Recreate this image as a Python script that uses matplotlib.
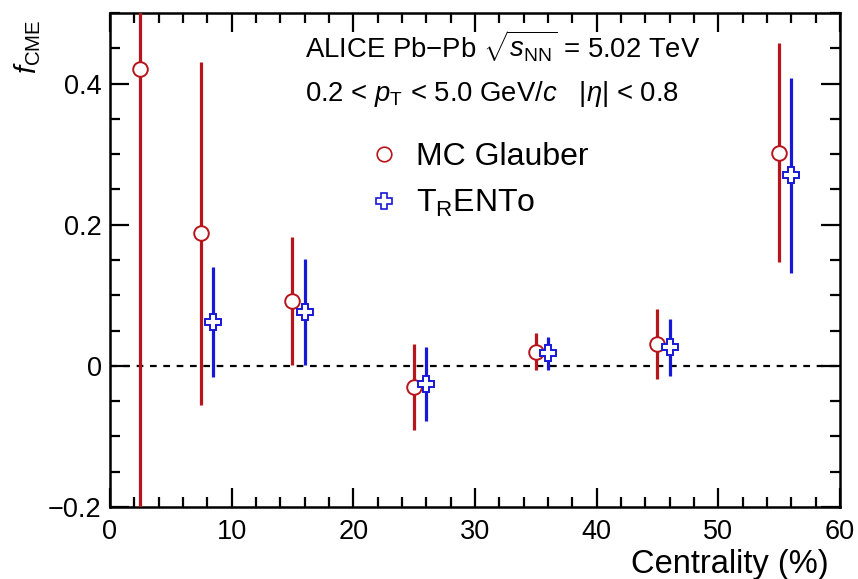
import matplotlib
matplotlib.use('Agg')
import matplotlib.pyplot as plt
from matplotlib.lines import Line2D
from matplotlib.ticker import MultipleLocator

plt.rcParams['font.family'] = ['Liberation Sans', 'DejaVu Sans']
plt.rcParams['mathtext.fontset'] = 'custom'
plt.rcParams['mathtext.rm'] = 'Liberation Sans'
plt.rcParams['mathtext.it'] = 'Liberation Sans:italic'

# MC Glauber
glauber_x = [2.5, 7.5, 15, 25, 35, 45, 55]
glauber_y = [0.421, 0.188, 0.092, -0.030, 0.020, 0.031, 0.302]
glauber_err = [0.75, 0.243, 0.091, 0.061, 0.026, 0.049, 0.155]

# TRENTo (drawn shifted by +1 in centrality)
trento_x = [8.5, 16, 26, 36, 46, 56]
trento_y = [0.062, 0.076, -0.026, 0.018, 0.026, 0.270]
trento_err = [0.078, 0.075, 0.052, 0.0235, 0.041, 0.138]

red = '#b8141c'
blue = '#1818d8'

fig = plt.figure(figsize=(8.58, 5.79), dpi=100)
ax = fig.add_axes([0.1282, 0.1244, 0.979 - 0.1282, 0.9775 - 0.1244])

ax.axhline(0, color='black', lw=1.6, ls=(0, (3, 3)), zorder=1)

ax.errorbar(glauber_x, glauber_y, yerr=glauber_err, fmt='o', color=red,
            mfc='white', mec=red, mew=1.4, ms=10.5, elinewidth=2.3,
            capsize=0, zorder=3)
ax.errorbar(trento_x, trento_y, yerr=trento_err, fmt='P', color=blue,
            mfc='white', mec=blue, mew=1.4, ms=12, elinewidth=2.3,
            capsize=0, zorder=3)

ax.set_xlim(0, 60)
ax.set_ylim(-0.2, 0.5)
ax.xaxis.set_major_locator(MultipleLocator(10))
ax.xaxis.set_minor_locator(MultipleLocator(2))
ax.yaxis.set_minor_locator(MultipleLocator(0.05))
ax.set_yticks([-0.2, 0, 0.2, 0.4])
ax.set_yticklabels(['\u22120.2', '0', '0.2', '0.4'])
ax.tick_params(which='both', direction='in', top=True, right=True,
               labelsize=19.5, width=1.6)
ax.tick_params(axis='x', pad=9)
ax.tick_params(axis='y', pad=6)
ax.tick_params(which='major', length=14)
ax.tick_params(which='minor', length=7)
for s in ax.spines.values():
    s.set_linewidth(1.8)

ax.set_xlabel('Centrality (%)', fontsize=23.5, ha='right')
ax.xaxis.set_label_coords(0.984, -0.085)
fig.text(0.032, 0.967, r'$\mathit{f}_\mathregular{CME}$', rotation=90,
         fontsize=21, ha='center', va='top')

ax.text(0.267, 0.932, r'ALICE Pb$-$Pb $\sqrt{\mathit{s}_\mathregular{NN}}$ = 5.02 TeV',
        transform=ax.transAxes, fontsize=19.8, va='center', ha='left')
ax.text(0.267, 0.836,
        r'0.2 < $\mathit{p}_\mathregular{T}$ < 5.0 GeV/$\mathit{c}$   |$\mathit{\eta}$| < 0.8',
        transform=ax.transAxes, fontsize=19.8, va='center', ha='left')

handles = [
    Line2D([], [], ls='none', marker='o', mfc='white', mec=red, mew=1.2, ms=10.5),
    Line2D([], [], ls='none', marker='P', mfc='white', mec=blue, mew=1.2, ms=12),
]
labels = ['MC Glauber', r'T$_\mathregular{R}$ENTo']
ax.legend(handles, labels, loc='upper left', bbox_to_anchor=(0.34, 0.765),
          frameon=False, fontsize=23, handlelength=0.8, handletextpad=0.6,
          labelspacing=0.5, borderaxespad=0)

fig.savefig('out.png', dpi=100)
